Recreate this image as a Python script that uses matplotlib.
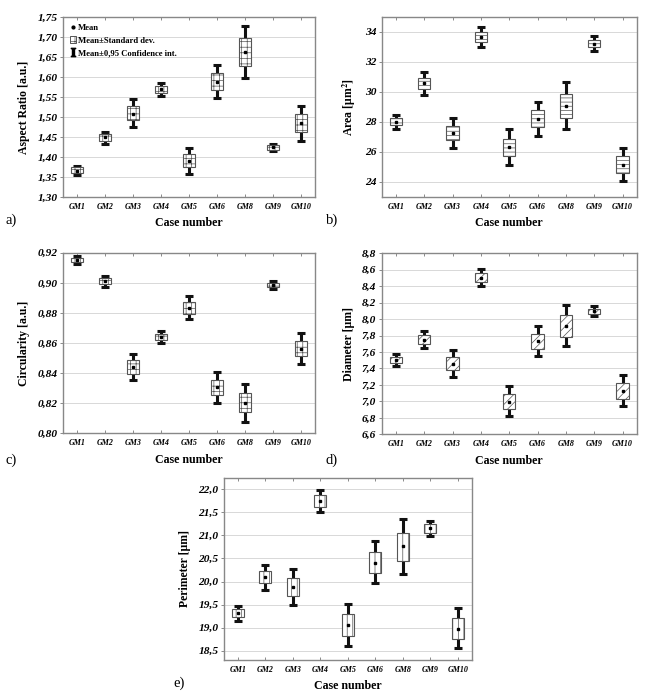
import matplotlib
matplotlib.use("Agg")
import matplotlib.pyplot as plt
from matplotlib.ticker import FuncFormatter, MultipleLocator
from matplotlib.patches import Patch
from matplotlib.lines import Line2D

plt.rcParams['font.family'] = ['Liberation Serif', 'DejaVu Serif']
plt.rcParams['mathtext.fontset'] = 'stix'
plt.rcParams['hatch.linewidth'] = 0.5

cases = ['GM1', 'GM2', 'GM3', 'GM4', 'GM5', 'GM6', 'GM8', 'GM9', 'GM10']

# a) aspect ratio
ar_mean = [1.366, 1.449, 1.508, 1.569, 1.390, 1.588, 1.663, 1.424, 1.484]
ar_sd_lo = [1.360, 1.441, 1.492, 1.561, 1.375, 1.567, 1.628, 1.418, 1.462]
ar_sd_hi = [1.374, 1.458, 1.527, 1.577, 1.407, 1.609, 1.697, 1.429, 1.507]
ar_ci_lo = [1.355, 1.433, 1.475, 1.553, 1.357, 1.548, 1.598, 1.414, 1.441]
ar_ci_hi = [1.378, 1.463, 1.545, 1.585, 1.422, 1.630, 1.728, 1.432, 1.528]

# b) area
area_mean = [28.00, 30.56, 27.24, 33.64, 26.31, 28.18, 29.04, 33.16, 25.16]
area_sd_lo = [27.76, 30.16, 26.76, 33.31, 25.71, 27.64, 28.27, 32.96, 24.60]
area_sd_hi = [28.24, 30.95, 27.73, 33.98, 26.89, 28.76, 29.87, 33.44, 25.71]
area_ci_lo = [27.55, 29.78, 26.24, 33.00, 25.13, 27.07, 27.51, 32.73, 24.07]
area_ci_hi = [28.44, 31.33, 28.24, 34.31, 27.53, 29.33, 30.64, 33.69, 26.27]

# c) circularity
circ_mean = [0.9152, 0.9011, 0.8442, 0.8640, 0.8835, 0.8305, 0.8200, 0.8987, 0.8560]
circ_sd_lo = [0.9137, 0.8991, 0.8396, 0.8620, 0.8796, 0.8252, 0.8141, 0.8971, 0.8511]
circ_sd_hi = [0.9168, 0.9029, 0.8488, 0.8662, 0.8873, 0.8356, 0.8265, 0.9000, 0.8611]
circ_ci_lo = [0.9128, 0.8973, 0.8355, 0.8600, 0.8761, 0.8203, 0.8077, 0.8960, 0.8459]
circ_ci_hi = [0.9181, 0.9044, 0.8528, 0.8682, 0.8911, 0.8407, 0.8327, 0.9009, 0.8664]

# d) diameter
dia_mean = [7.505, 7.752, 7.457, 8.503, 6.996, 7.731, 7.917, 8.099, 7.125]
dia_sd_lo = [7.469, 7.699, 7.380, 8.446, 6.911, 7.638, 7.788, 8.067, 7.028]
dia_sd_hi = [7.541, 7.804, 7.541, 8.556, 7.093, 7.820, 8.046, 8.127, 7.218]
dia_ci_lo = [7.432, 7.651, 7.295, 8.406, 6.826, 7.549, 7.671, 8.034, 6.947]
dia_ci_hi = [7.578, 7.861, 7.622, 8.604, 7.182, 7.917, 8.176, 8.160, 7.315]

# e) perimeter
per_mean = [19.32, 20.09, 19.88, 21.74, 19.05, 20.41, 20.76, 21.15, 18.98]
per_sd_lo = [19.23, 19.96, 19.68, 21.61, 18.82, 20.18, 20.45, 21.06, 18.76]
per_sd_hi = [19.40, 20.22, 20.07, 21.87, 19.29, 20.64, 21.06, 21.24, 19.21]
per_ci_lo = [19.15, 19.82, 19.49, 21.50, 18.60, 19.96, 20.16, 20.99, 18.55]
per_ci_hi = [19.48, 20.36, 20.27, 21.99, 19.52, 20.88, 21.36, 21.32, 19.43]

fig = plt.figure(figsize=(6.45, 6.97), dpi=100)


def box_panel(rect, mean, sd_lo, sd_hi, ci_lo, ci_hi, hatch, ylabel, ylim, step, fmt):
    ax = fig.add_axes(rect)
    x = list(range(len(cases)))
    yerr = [[m - lo for m, lo in zip(mean, ci_lo)], [hi - m for m, hi in zip(mean, ci_hi)]]
    ax.errorbar(x, mean, yerr=yerr, fmt='none', ecolor='#111111', elinewidth=2.2,
                capsize=3.0, capthick=2.2, zorder=2)
    ax.bar(x, [h - l for l, h in zip(sd_lo, sd_hi)], bottom=sd_lo, width=0.44,
           facecolor='white', edgecolor='#555555', hatch=hatch, linewidth=0.8, zorder=3)
    ax.plot(x, mean, ls='none', marker='s', ms=1.6, color='black', zorder=4)
    ax.set_xlim(-0.5, len(cases) - 0.5)
    ax.set_ylim(*ylim)
    ax.yaxis.set_major_locator(MultipleLocator(step))
    ax.yaxis.set_major_formatter(FuncFormatter(lambda v, p: fmt.format(v).replace('.', ',')))
    ax.set_xticks(x)
    ax.set_xticklabels(cases, fontsize=5.8, fontweight='bold', fontstyle='italic')
    for t in ax.get_yticklabels():
        t.set_fontsize(8.2)
        t.set_fontweight('bold')
        t.set_fontstyle('italic')
    ax.tick_params(axis='x', direction='in', top=True, length=2.5, width=0.6,
                   color='#777777', pad=4)
    ax.tick_params(axis='y', direction='out', length=2, width=0.6, color='#777777', pad=2)
    ax.grid(axis='y', color='#d8d8d8', lw=0.7, zorder=0)
    ax.set_axisbelow(True)
    for s in ax.spines.values():
        s.set_color('#888888')
        s.set_linewidth(1.0)
    ax.set_ylabel(ylabel, fontsize=8.5, fontweight='bold', labelpad=5)
    ax.set_xlabel('Case number', fontsize=8.6, fontweight='bold', labelpad=5)
    return ax


ax_a = box_panel([0.0977, 0.7174, 0.391, 0.2583], ar_mean, ar_sd_lo, ar_sd_hi, ar_ci_lo, ar_ci_hi,
                 '+++', 'Aspect Ratio [a.u.]', (1.30, 1.75), 0.05, '{:.2f}')
ax_b = box_panel([0.5918, 0.7174, 0.3953, 0.2587], area_mean, area_sd_lo, area_sd_hi, area_ci_lo, area_ci_hi,
                 '----', r'Area [μm$^\mathbf{2}$]', (23, 35), 2, '{:.0f}')
ax_c = box_panel([0.0977, 0.3783, 0.391, 0.2591], circ_mean, circ_sd_lo, circ_sd_hi, circ_ci_lo, circ_ci_hi,
                 '+++', 'Circularity [a.u.]', (0.80, 0.92), 0.02, '{:.2f}')
ax_d = box_panel([0.5918, 0.3769, 0.3953, 0.2597], dia_mean, dia_sd_lo, dia_sd_hi, dia_ci_lo, dia_ci_hi,
                 '////', 'Diameter [μm]', (6.6, 8.8), 0.2, '{:.1f}')
ax_e = box_panel([0.3473, 0.0531, 0.384, 0.2615], per_mean, per_sd_lo, per_sd_hi, per_ci_lo, per_ci_hi,
                 '|||', 'Perimeter [μm]', (18.3, 22.25), 0.5, '{:.1f}')

# legend in panel a
handles = [
    Line2D([], [], ls='none', marker='o', ms=2.0, color='black'),
    Patch(facecolor='white', edgecolor='#555555', hatch='+++', linewidth=0.7),
    Line2D([], [], ls='none', marker=r'$\mathbf{I}$', ms=6, color='black'),
]
labels = ['Mean', 'Mean±Standard dev.', 'Mean±0,95 Confidence int.']
leg = ax_a.legend(handles, labels, loc='upper left', bbox_to_anchor=(0.0, 1.0), frameon=False,
                  prop={'family': 'Liberation Serif', 'weight': 'bold', 'size': 6.2},
                  handlelength=0.7, handleheight=0.8, handletextpad=0.2, labelspacing=0.5,
                  borderaxespad=0.5, borderpad=0.3)

# panel letters
for lab, px, py in [('a)', 5, 220), ('b)', 326, 220), ('c)', 5, 460), ('d)', 326, 460), ('e)', 173, 683)]:
    fig.text(px / 645, 1 - py / 697, lab, fontsize=10.5, va='center', ha='left')

fig.savefig('out.png', dpi=100)
